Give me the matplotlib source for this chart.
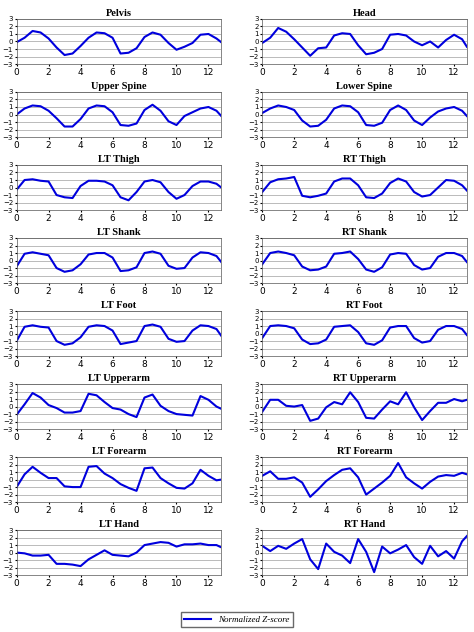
import matplotlib
matplotlib.use("Agg")
import matplotlib.pyplot as plt
from matplotlib.lines import Line2D

x = [0,0.5,1,1.5,2,2.5,3,3.5,4,4.5,5,5.5,6,6.5,7,7.5,8,8.5,9,9.5,10,10.5,11,11.5,12,12.5,12.8]

titles = ["Pelvis","Head","Upper Spine","Lower Spine","LT Thigh","RT Thigh","LT Shank","RT Shank",
          "LT Foot","RT Foot","LT Upperarm","RT Upperarm","LT Forearm","RT Forearm","LT Hand","RT Hand"]

pelvis = [-0.1,0.5,1.4,1.2,0.4,-0.8,-1.8,-1.6,-0.6,0.5,1.2,1.1,0.5,-1.6,-1.5,-0.9,0.6,1.2,0.9,-0.2,-1.1,-0.7,-0.2,0.9,1.0,0.4,-0.1]
head = [-0.2,0.5,1.8,1.3,0.3,-0.8,-1.9,-0.9,-0.8,0.8,1.1,1.0,-0.5,-1.7,-1.5,-1.0,0.9,1.0,0.8,0.0,-0.5,0.0,-0.8,0.2,0.9,0.3,-0.7]
upper_spine = [0.0,0.8,1.2,1.1,0.5,-0.5,-1.6,-1.6,-0.6,0.8,1.2,1.1,0.3,-1.4,-1.5,-1.2,0.6,1.3,0.5,-0.9,-1.4,-0.2,0.3,0.8,1.0,0.5,-0.2]
lower_spine = [0.2,0.8,1.2,1.0,0.6,-0.8,-1.6,-1.5,-0.7,0.8,1.2,1.1,0.3,-1.4,-1.5,-1.1,0.6,1.2,0.6,-0.8,-1.4,-0.4,0.4,0.8,1.0,0.5,-0.2]
lt_thigh = [-0.3,1.0,1.1,0.9,0.8,-1.0,-1.3,-1.4,0.2,0.9,0.9,0.8,0.3,-1.3,-1.7,-0.6,0.8,1.0,0.7,-0.6,-1.5,-1.0,0.2,0.8,0.8,0.5,0.0]
rt_thigh = [-0.6,0.7,1.1,1.2,1.4,-1.1,-1.3,-1.1,-0.8,0.8,1.2,1.2,0.3,-1.3,-1.4,-0.8,0.6,1.2,0.8,-0.6,-1.2,-1.0,0.0,1.0,0.9,0.3,-0.4]
lt_shank = [-0.8,0.9,1.1,0.9,0.7,-1.0,-1.5,-1.3,-0.5,0.8,1.0,1.0,0.4,-1.4,-1.3,-0.9,1.0,1.2,0.9,-0.7,-1.1,-1.0,0.4,1.1,1.0,0.6,-0.2]
rt_shank = [-0.5,1.0,1.2,1.0,0.7,-0.8,-1.3,-1.2,-0.8,0.9,1.0,1.2,0.2,-1.2,-1.5,-0.9,0.8,1.0,0.9,-0.6,-1.2,-1.0,0.5,1.0,1.0,0.6,-0.2]
lt_foot = [-1.0,0.9,1.1,0.9,0.8,-1.0,-1.5,-1.3,-0.5,0.9,1.1,1.0,0.4,-1.4,-1.2,-1.0,1.0,1.2,0.9,-0.7,-1.1,-1.0,0.4,1.1,1.0,0.6,-0.3]
rt_foot = [-0.6,1.0,1.1,1.0,0.7,-0.8,-1.4,-1.3,-0.8,0.9,1.0,1.1,0.2,-1.3,-1.5,-0.9,0.8,1.0,1.0,-0.6,-1.2,-1.0,0.5,1.0,1.0,0.6,-0.2]
lt_upperarm = [-1.1,0.3,1.8,1.2,0.2,-0.2,-0.8,-0.8,-0.6,1.7,1.5,0.6,-0.2,-0.4,-1.0,-1.4,1.2,1.6,0.1,-0.6,-1.0,-1.1,-1.2,1.4,0.9,0.0,-0.3]
rt_upperarm = [-0.7,0.9,0.9,0.1,0.0,0.2,-1.9,-1.6,-0.1,0.6,0.3,1.9,0.6,-1.5,-1.6,-0.4,0.7,0.3,1.9,-0.1,-1.8,-0.6,0.5,0.5,1.0,0.7,0.9]
lt_forearm = [-1.0,0.7,1.7,0.9,0.2,0.2,-0.9,-1.0,-1.0,1.7,1.8,0.8,0.2,-0.6,-1.1,-1.5,1.5,1.6,0.2,-0.5,-1.1,-1.2,-0.5,1.3,0.5,-0.1,0.0]
rt_forearm = [0.5,1.1,0.1,0.1,0.3,-0.4,-2.3,-1.3,-0.2,0.6,1.3,1.5,0.3,-2.0,-1.2,-0.4,0.5,2.2,0.3,-0.5,-1.2,-0.3,0.4,0.6,0.5,0.9,0.7]
lt_hand = [0.0,-0.1,-0.4,-0.4,-0.3,-1.5,-1.5,-1.6,-1.8,-0.9,-0.3,0.3,-0.3,-0.4,-0.5,0.0,1.0,1.2,1.4,1.3,0.8,1.1,1.1,1.2,1.0,1.0,0.7]
rt_hand = [0.9,0.2,0.9,0.5,1.2,1.8,-0.9,-2.2,1.2,0.1,-0.4,-1.4,1.8,0.1,-2.6,0.8,-0.1,0.4,1.0,-0.6,-1.5,0.9,-0.5,0.2,-0.8,1.5,2.2]

series = [pelvis,head,upper_spine,lower_spine,lt_thigh,rt_thigh,lt_shank,rt_shank,
          lt_foot,rt_foot,lt_upperarm,rt_upperarm,lt_forearm,rt_forearm,lt_hand,rt_hand]

xticks = [0,2,4,6,8,10,12]
yticks = [-3,-2,-1,0,1,2,3]
serif = ["Liberation Serif", "DejaVu Serif"]

fig, axes = plt.subplots(8, 2, figsize=(4.74, 6.32), dpi=100)
fig.subplots_adjust(left=0.035, right=0.985, top=0.97, bottom=0.09, hspace=0.62, wspace=0.2)
for ax, t, y in zip(axes.flat, titles, series):
    ax.plot(x, y, color="#0000dd", lw=1.5)
    ax.set_xlim(0, 12.8)
    ax.set_ylim(-3, 3)
    ax.set_xticks(xticks)
    ax.set_yticks(yticks)
    ax.grid(axis="y", color="#b0b0b0", lw=0.6)
    ax.tick_params(axis="x", labelsize=6.5, length=1.5, pad=1)
    ax.tick_params(axis="y", labelsize=5, length=1.5, pad=1)
    ax.set_title(t, fontsize=7.5, fontweight="bold", family=serif, pad=2)
    for s in ax.spines.values():
        s.set_color("#555555"); s.set_linewidth(0.5)

h = [Line2D([], [], color="#0000dd", lw=1.5)]
fig.legend(h, ["Normalized Z-score"], loc="lower center", bbox_to_anchor=(0.5, 0.0),
           prop={"family": serif, "style": "italic", "size": 6.5}, fancybox=False,
           edgecolor="#444444", handlelength=3)
fig.savefig("out.png")
